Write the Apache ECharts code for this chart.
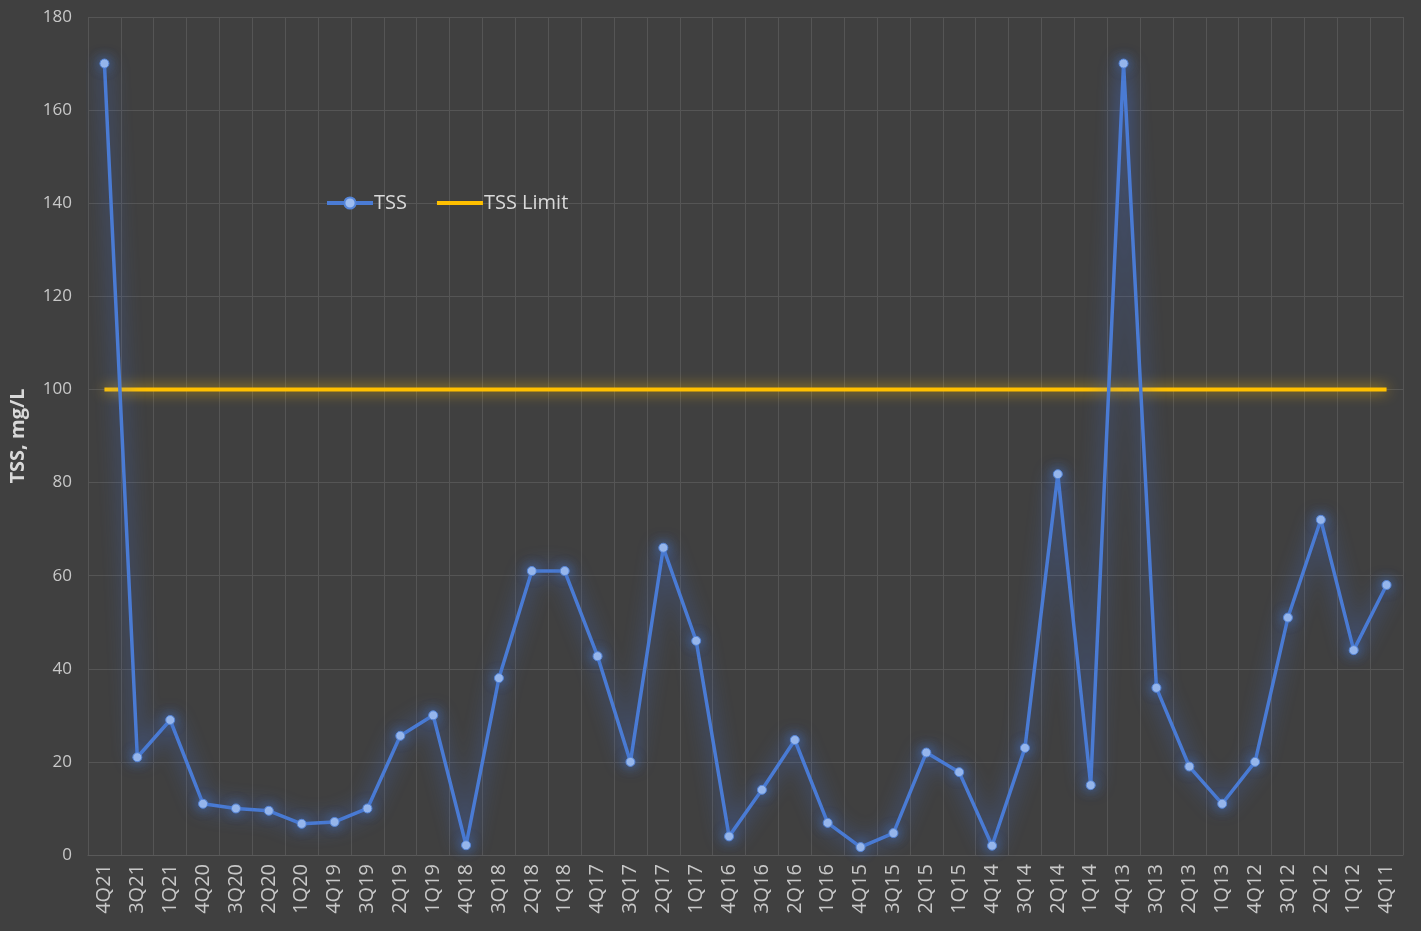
<!DOCTYPE html>
<html>
<head>
<meta charset="utf-8">
<script src="https://cdn.jsdelivr.net/npm/echarts@6/dist/echarts.min.js"></script>
<style>
html,body{margin:0;padding:0;background:#404040;}
#c{width:1421px;height:931px;}
</style>
</head>
<body>
<div id="c"></div>
<script>
const categories = ['4Q21','3Q21','1Q21','4Q20','3Q20','2Q20','1Q20','4Q19','3Q19','2Q19','1Q19','4Q18','3Q18','2Q18','1Q18','4Q17','3Q17','2Q17','1Q17','4Q16','3Q16','2Q16','1Q16','4Q15','3Q15','2Q15','1Q15','4Q14','3Q14','2Q14','1Q14','4Q13','3Q13','2Q13','1Q13','4Q12','3Q12','2Q12','1Q12','4Q11'];
const tss = [170,21,29,11,10,9.5,6.7,7.1,10,25.6,30,2.1,38,61,61,42.7,20,66,46,4,14,24.7,6.9,1.7,4.7,22,17.8,2,23,81.8,15,170,35.9,19,11,20,51,72,44,58];
const tssLimit = [100,100,100,100,100,100,100,100,100,100,100,100,100,100,100,100,100,100,100,100,100,100,100,100,100,100,100,100,100,100,100,100,100,100,100,100,100,100,100,100];

const chart = echarts.init(document.getElementById('c'));
chart.setOption({
  backgroundColor: '#404040',
  animation: false,
  grid: {left: 86, right: 18, top: 17, bottom: 76},
  legend: {
    left: 320, top: 188,
    itemWidth: 46, itemHeight: 14, itemGap: 30,
    textStyle: {color: '#d9d9d9', fontSize: 20, fontFamily: 'Open Sans', padding: [0, 0, 0, -4]},
    data: [
      {name: 'TSS', lineStyle: {width: 4, color: '#4a7bd4'}},
      {name: 'TSS Limit', icon: 'path://M0,0 L46,0 L46,4 L0,4 Z', itemStyle: {color: '#FFC000'}}
    ]
  },
  xAxis: {
    type: 'category',
    data: categories,
    boundaryGap: true,
    axisLine: {show: true, lineStyle: {color: '#595959'}},
    axisTick: {show: false},
    axisLabel: {rotate: 90, color: '#c8c8c8', fontSize: 20, fontFamily: 'Open Sans', interval: 0, margin: 9},
    splitLine: {show: true, interval: 0, lineStyle: {color: '#555555', width: 1}}
  },
  yAxis: {
    type: 'value',
    min: 0, max: 180, interval: 20,
    name: 'TSS, mg/L',
    nameLocation: 'middle',
    nameGap: 60,
    nameTextStyle: {color: '#d9d9d9', fontSize: 20, fontWeight: 'bold', fontFamily: 'Open Sans'},
    axisLine: {show: false},
    axisTick: {show: false},
    axisLabel: {color: '#c8c8c8', fontSize: 17, fontFamily: 'Open Sans', margin: 16},
    splitLine: {lineStyle: {color: '#555555', width: 1}}
  },
  series: [
    {
      name: 'TSS Limit',
      type: 'line',
      data: tssLimit,
      symbol: 'none',
      color: '#FFC000',
      lineStyle: {color: '#FFC000', width: 4, shadowColor: 'rgba(255,192,0,0.9)', shadowBlur: 14},
      z: 2
    },
    {
      name: 'TSS',
      type: 'line',
      data: tss,
      symbol: 'circle',
      symbolSize: 9,
      color: '#4472C4',
      itemStyle: {color: '#9dbcef', borderColor: '#5585d8', borderWidth: 1, shadowColor: 'rgba(68,114,196,1)', shadowBlur: 12},
      lineStyle: {color: '#4a7bd4', width: 3.5, shadowColor: 'rgba(68,114,220,1)', shadowBlur: 20},
      z: 3
    }
  ]
});
</script>
</body>
</html>
